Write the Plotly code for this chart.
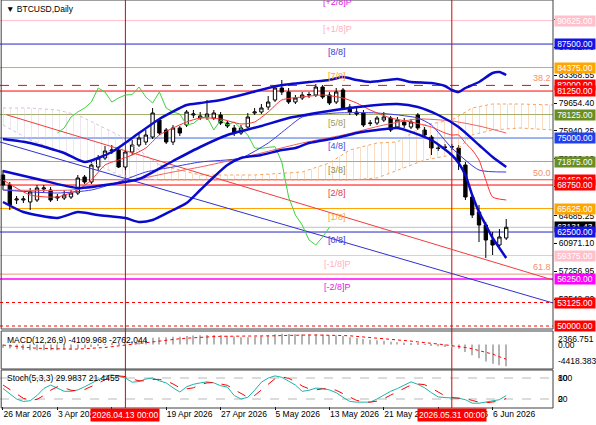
import pandas as pd
import plotly.graph_objects as go

START = pd.Timestamp("2026-03-26")


def day(i):
    return START + pd.Timedelta(days=float(i))


# ---------------- candles (BTCUSD daily) ----------------
opens = [70083, 68753, 66758, 66758, 66492, 66758, 68221, 68088, 67024, 67024,
         67157, 67689, 69817, 69152, 71147, 72344, 73275, 73408, 71147, 73142,
         74073, 74472, 75137, 77398, 76068, 74472, 76334, 76733, 78063, 77664,
         77797, 77664, 78063, 76999, 76334, 75669, 76467, 78329, 78462, 79127,
         80058, 81654, 81122, 79792, 80324, 80723, 80723, 81787, 80723, 79792,
         81388, 79127, 78462, 78329, 76999, 76999, 77398, 77664, 76467, 77132,
         76467, 78063, 76068, 75137, 73674, 73807, 73807, 73674, 71413, 67157,
         65162, 63433, 61438, 60773, 61704]
closes = [68753, 66093, 66891, 66891, 67822, 68354, 68354, 66758, 67157, 67423,
          67689, 69684, 69152, 71413, 72344, 73275, 73408, 71147, 73142, 74073,
          75004, 75403, 78329, 75669, 74472, 76334, 75669, 78462, 78196, 77930,
          78196, 78329, 76999, 76600, 75669, 76334, 77797, 78462, 78994, 79792,
          81654, 81122, 79792, 80324, 80723, 80780, 81787, 80457, 79659, 81122,
          78994, 78462, 78196, 76733, 76960, 77664, 77797, 76068, 77398, 76733,
          77132, 76334, 75403, 73674, 73630, 73760, 73850, 71812, 67157, 64763,
          63433, 61438, 60773, 61837, 63131.43]
highs = [70748, 69152, 67290, 67290, 68354, 68753, 68753, 68487, 67556, 68088,
         68088, 70083, 70083, 71812, 72743, 73940, 74073, 73807, 73408, 74738,
         75669, 76068, 78994, 77664, 76334, 76733, 76600, 78728, 78728, 78462,
         80058, 78728, 78462, 77265, 76733, 76733, 78329, 78994, 79526, 80590,
         82053, 82718, 81654, 80723, 81122, 81122, 82186, 82053, 81122, 81654,
         81654, 79526, 78994, 78728, 77398, 77930, 78462, 77930, 77797, 77664,
         77531, 78329, 76467, 75403, 74073, 74206, 74206, 74073, 71812, 67423,
         66093, 63832, 62502, 62901, 64231]
lows = [68088, 65428, 66226, 66359, 65428, 66492, 67822, 66492, 66625, 66758,
        66891, 67423, 68886, 68886, 70748, 72078, 72876, 71014, 70748, 72743,
        73807, 74073, 74871, 75403, 74206, 74073, 75270, 76467, 77664, 77398,
        77398, 77398, 76733, 76334, 75270, 75403, 76334, 78063, 78196, 78728,
        79792, 80723, 79526, 79526, 80058, 80324, 80457, 80191, 79393, 79526,
        78728, 78063, 77930, 76467, 76600, 76733, 77132, 75802, 76201, 76334,
        76201, 76068, 75004, 72743, 73275, 73408, 73408, 70748, 66758, 64364,
        61172, 59044, 59443, 60374, 61438]
dates = [day(i) for i in range(len(closes))]

# ---------------- indicator lines (day index, price) ----------------
bb_up_idx = [0, 4, 9, 12, 16, 19, 23, 27, 29, 32, 39, 41, 45, 48, 50, 52, 54, 58, 60, 63,
             65, 66, 67, 68, 70, 72, 73, 74]
bb_up_val = [74871, 74339, 73009, 71812, 73142, 75004, 77531, 79393, 79659, 80058,
             81654, 82053, 82452, 82718, 83117, 82718, 82452, 82851, 82452, 82319,
             81920, 81388, 81122, 81654, 82452, 83649, 83782, 83383]
bb_mid_idx = [0, 5, 11, 16, 20, 25, 29, 33, 38, 42, 47, 51, 55, 58, 61, 64, 67, 70, 72, 74]
bb_mid_val = [70615, 69551, 68354, 68886, 69551, 71945, 73807, 75403, 76600, 77664,
              78462, 78994, 79393, 79526, 79127, 78063, 76467, 74073, 72477, 71147]
bb_lo_idx = [0, 3, 8, 11, 14, 18, 20, 22, 25, 27, 29, 31, 33, 35, 38, 41, 43, 45, 49, 52,
             55, 58, 63, 66, 67, 68, 69, 70, 71, 72, 73, 74]
bb_lo_val = [66492, 65162, 64364, 65162, 64763, 64364, 63832, 64098, 65428, 66359,
             68088, 69817, 71413, 72344, 72743, 73408, 73674, 74339, 75004, 75669,
             76068, 76334, 74738, 72743, 71679, 70083, 67423, 65162, 63433, 61704,
             60374, 59044]
kijun_idx = [0, 8, 13, 17, 21, 25, 29, 35, 39, 42, 44, 49, 55, 61, 63, 66, 70, 74]
kijun_val = [68088, 67689, 68088, 69152, 70482, 71147, 71812, 72344, 74339, 76467,
             77797, 78329, 78329, 77664, 76733, 73674, 70748, 70482]
tenkan_idx = [0, 4, 8, 11, 13, 15, 17, 19, 21, 23, 25, 27, 29, 32, 35, 37, 39, 41, 44, 47,
              50, 52, 54, 57, 60, 63, 65, 66, 67, 68, 69, 70, 71, 72, 74]
tenkan_val = [69418, 67423, 67157, 68088, 69418, 71413, 72078, 72743, 73674, 75403,
              76334, 77132, 77664, 77531, 76866, 77132, 78462, 80058, 80457, 80723,
              80324, 79659, 78728, 77664, 77132, 76467, 75669, 75403, 75403, 74339,
              73408, 72078, 69418, 67157, 66758]
ma_idx = [0, 10, 17, 25, 29, 35, 44, 50, 56, 61, 66, 70, 74]
ma_val = [68088, 68088, 69019, 70482, 71147, 72344, 74339, 75403, 76733, 77531,
          77265, 76600, 75669]
cloud_l_idx = [0, 4, 8, 11, 14, 17, 20, 23]
cloud_l_top = [78994, 78994, 78728, 78063, 76733, 75403, 73408, 71413]
cloud_l_bot = [76733, 74738, 73408, 72078, 71413, 70083, 69684, 69418]
cloud_r_idx = [23, 29, 37, 44, 48, 51, 55, 58, 62, 66, 69, 72, 76, 81]
cloud_r_top = [71413, 70083, 70083, 70482, 71679, 73408, 74339, 74472, 76733, 77398,
               78994, 79526, 79526, 79393]
cloud_r_bot = [69418, 69418, 69418, 69418, 69418, 69418, 69684, 70748, 72078, 72743,
               75403, 76068, 76334, 76068]
trend_blue_idx = [-0.44, 80.88]
trend_blue_val = [74472, 53059]
trend_red_idx = [0.5, 80.88]
trend_red_val = [78100, 56118]
chikou_shift = 26
chikou_first = 8

# ---------------- sub windows ----------------
macd_main = [-600, -750, -900, -1000, -1050, -1050, -1050, -1050, -1050, -1000,
             -950, -800, -650, -450, -200, 50, 250, 300, 450, 650,
             850, 1000, 1300, 1400, 1400, 1450, 1450, 1600, 1700, 1750,
             1800, 1800, 1750, 1650, 1500, 1400, 1400, 1450, 1550, 1700,
             1950, 2050, 2000, 1950, 1950, 1900, 1950, 1900, 1750, 1700,
             1600, 1400, 1250, 1050, 900, 800, 700, 550, 450, 350,
             300, 200, 50, -150, -300, -450, -550, -800, -1400, -2000,
             -2600, -3200, -3600, -3900, -4109.968]
macd_signal = [-100, -250, -400, -500, -600, -700, -750, -800, -850, -850,
               -850, -850, -800, -750, -650, -550, -400, -250, -100, 100,
               250, 400, 600, 750, 900, 1000, 1100, 1200, 1300, 1400,
               1450, 1500, 1550, 1550, 1550, 1550, 1550, 1550, 1550, 1600,
               1650, 1700, 1750, 1750, 1800, 1800, 1800, 1800, 1800, 1750,
               1700, 1650, 1550, 1450, 1350, 1250, 1150, 1000, 900, 750,
               650, 500, 400, 250, 100, -50, -200, -350, -550, -800,
               -1100, -1450, -1800, -2300, -2762.044]
macd_max, macd_min = 2366.751, -4418.383
stoch_k = [50, 35, 20, 13, 15, 30, 50, 60, 52, 42,
           42, 46, 55, 65, 75, 85, 89, 84, 80, 68,
           70, 77, 80, 72, 66, 52, 40, 55, 62, 66,
           69, 66, 58, 54, 30, 20, 25, 45, 68, 80,
           86, 82, 70, 60, 42, 45, 51, 50, 46, 38,
           25, 13, 11, 11, 11, 20, 31, 42, 50, 60,
           69, 62, 52, 38, 26, 24, 23, 22, 18, 8,
           8, 11, 13, 18, 29.9837]
stoch_d = [60, 48, 35, 22, 16, 19, 30, 45, 55, 52,
           45, 43, 47, 55, 65, 75, 83, 86, 84, 77,
           72, 72, 76, 76, 72, 63, 52, 49, 52, 61,
           66, 67, 64, 59, 47, 35, 25, 30, 46, 64,
           78, 83, 79, 70, 57, 49, 46, 49, 49, 45,
           36, 25, 16, 12, 11, 14, 21, 31, 41, 51,
           60, 63, 61, 51, 39, 29, 24, 23, 21, 16,
           11, 9, 11, 14, 21.4455]
stoch_levels = [80, 20]

# ---------------- levels ----------------
murrey_prices = [93750, 90625, 87500, 84375, 81250, 78125, 75000, 71875, 68750, 65625,
                 62500, 59375, 56250]
murrey_names = ["[+2/8]P", "[+1/8]P", "[8/8]", "[7/8]", "[6/8]", "[5/8]", "[4/8]",
                "[3/8]", "[2/8]", "[1/8]", "[0/8]", "[-1/8]P", "[-2/8]P"]
fib_prices = [82000, 69450, 56900]
fib_names = ["38.2", "50.0", "61.8"]
extra_prices = [53125, 50000]
current_price = 63131.43
axis_ticks = [90796.85, 87082.70, 83368.55, 79654.40, 75940.25, 72226.10, 68511.95,
              64685.25, 60971.10, 57256.95, 53542.80]
date_ticks = [0, 8, 16, 24, 32, 40, 48, 56, 64, 72]
date_tick_text = ["26 Mar 2026", "3 Apr 2026", "11 Apr 2026", "19 Apr 2026",
                  "27 Apr 2026", "5 May 2026", "13 May 2026", "21 May 2026",
                  "29 May 2026", "6 Jun 2026"]
marker_days = [18, 66]
marker_text = ["2026.04.13 00:00", "2026.05.31 00:00"]

# ---------------- styles ----------------
PINK, BLUE, ORANGE, RED, OLIVE, RBLUE, MAG = ("#FFC0CB", "#2323C8", "#FFA500", "#FF0000",
                                              "#A4AE6E", "#4169E1", "#FF00FF")
murrey_line_color = [MAG, PINK, BLUE, ORANGE, RED, OLIVE, RBLUE, OLIVE, RED, ORANGE, BLUE, PINK, MAG]
murrey_text_color = ["#E020E0", "#FFB0C0", "#3A3AD8", "#FFA520", "#E03030", "#9A9A5A",
                     "#4A4AE0", "#8C8C50", "#E04040", "#FFA530", "#3A3AD8", "#FFB0C0", "#E020E0"]
murrey_box_color = [None, "#FFC0CB", "#1414E6", "#FFA500", "#FF0000", "#6B8E23", "#2040F0",
                    "#6B8E23", "#FF0000", "#FFA500", "#1414E6", "#FFC0CB", "#FF00FF"]
FONT = "Liberation Sans, Arial, sans-serif"
W, H = 596, 425
XR = 553 / W


def py(px):
    return 1 - px / H


fig = go.Figure()

# cloud (hatched)
for idx, top, bot, col in [(cloud_l_idx, cloud_l_top, cloud_l_bot, "#D8BFD8"),
                           (cloud_r_idx, cloud_r_top, cloud_r_bot, "#F4A460")]:
    xs = [day(i) for i in idx]
    fig.add_trace(go.Scatter(x=xs, y=top, mode="lines", line=dict(color=col, width=1, dash="dot"),
                             hoverinfo="skip"))
    fig.add_trace(go.Scatter(x=xs, y=bot, mode="lines", line=dict(color=col, width=1, dash="dot"),
                             fill="tonexty", fillcolor="rgba(0,0,0,0)",
                             fillpattern=dict(shape="|", fgcolor=col, fgopacity=0.55, size=7,
                                              solidity=0.1, bgcolor="rgba(0,0,0,0)"),
                             hoverinfo="skip"))

# trend lines
fig.add_trace(go.Scatter(x=[day(i) for i in trend_blue_idx], y=trend_blue_val, mode="lines",
                         line=dict(color="#3030D0", width=1), hoverinfo="skip"))
fig.add_trace(go.Scatter(x=[day(i) for i in trend_red_idx], y=trend_red_val, mode="lines",
                         line=dict(color="#F03C3C", width=1), hoverinfo="skip"))

# candles
fig.add_trace(go.Candlestick(
    x=dates, open=opens, high=highs, low=lows, close=closes,
    increasing=dict(line=dict(color="black", width=1), fillcolor="white"),
    decreasing=dict(line=dict(color="black", width=1), fillcolor="black"),
    whiskerwidth=0, hoverinfo="skip"))

# chikou (close shifted back)
n_ch = len(closes) - chikou_shift
fig.add_trace(go.Scatter(x=dates[chikou_first:n_ch], y=closes[chikou_first + chikou_shift:],
                         mode="lines", line=dict(color="#3ED43E", width=1), hoverinfo="skip"))
# moving lines
for idx, val, col, w in [(ma_idx, ma_val, "#F06060", 1), (kijun_idx, kijun_val, "#3A3AE6", 1),
                         (tenkan_idx, tenkan_val, "#FF3030", 1),
                         (bb_up_idx, bb_up_val, "#0A0ACD", 2.5), (bb_mid_idx, bb_mid_val, "#0A0ACD", 2.5),
                         (bb_lo_idx, bb_lo_val, "#0A0ACD", 2.5)]:
    fig.add_trace(go.Scatter(x=[day(i) for i in idx], y=val, mode="lines",
                             line=dict(color=col, width=w, shape="spline", smoothing=0.6),
                             hoverinfo="skip"))

# MACD
fig.add_trace(go.Bar(x=dates, y=macd_main, yaxis="y2", width=86400000 * 0.16,
                     marker=dict(color="#B4B4B4", line=dict(width=0)), hoverinfo="skip"))
fig.add_trace(go.Scatter(x=dates, y=macd_signal, yaxis="y2", mode="lines",
                         line=dict(color="#FF0000", width=1, dash="dot"), hoverinfo="skip"))
# Stochastic
fig.add_trace(go.Scatter(x=dates, y=stoch_k, yaxis="y3", mode="lines",
                         line=dict(color="#20B2AA", width=1), hoverinfo="skip"))
fig.add_trace(go.Scatter(x=dates, y=stoch_d, yaxis="y3", mode="lines",
                         line=dict(color="#FF0000", width=1, dash="dash"), hoverinfo="skip"))

shapes = []
# horizontal levels
for p, c in zip(murrey_prices, murrey_line_color):
    shapes.append(dict(type="line", xref="paper", x0=0, x1=XR, yref="y", y0=p, y1=p,
                       line=dict(color=c, width=1.5 if c == MAG else 1), layer="below"))
for p, c, dsh in zip(fib_prices, [RED, "#FF4040", "#E9967A"], ["dash", "solid", "solid"]):
    shapes.append(dict(type="line", xref="paper", x0=0, x1=XR, yref="y", y0=p, y1=p,
                       line=dict(color=c, width=1, dash=dsh), layer="below"))
for p in extra_prices:
    shapes.append(dict(type="line", xref="paper", x0=0, x1=XR, yref="y", y0=p, y1=p,
                       line=dict(color=RED, width=1, dash="dot"), layer="below"))
shapes.append(dict(type="line", xref="paper", x0=0, x1=XR, yref="y", y0=current_price,
                   y1=current_price, line=dict(color="#C0C0C0", width=1), layer="below"))
for lv in stoch_levels:
    shapes.append(dict(type="line", xref="paper", x0=0, x1=XR, yref="y3", y0=lv, y1=lv,
                       line=dict(color="#B8B8B8", width=1, dash="dash"), layer="below"))
for dd in marker_days:
    shapes.append(dict(type="line", xref="x", x0=day(dd), x1=day(dd), yref="paper",
                       y0=py(408), y1=1, line=dict(color="#E00000", width=1), layer="below"))
# panel frames
for top, bot in [(0, 329), (331, 369), (370, 408)]:
    shapes.append(dict(type="rect", xref="paper", x0=0.002, x1=XR, yref="paper",
                       y0=py(bot), y1=py(top), line=dict(color="#404040", width=1),
                       fillcolor="rgba(0,0,0,0)", layer="above"))

ann = []
# Murrey labels
for p, n, c in zip(murrey_prices, murrey_names, murrey_text_color):
    if n == "[6/8]":
        continue
    if p > 93358:
        ann.append(dict(text=n, xref="paper", x=337 / W, yref="paper", y=1, yanchor="middle",
                        yshift=-2, showarrow=False, font=dict(family=FONT, size=9, color=c)))
    else:
        ann.append(dict(text=n, xref="paper", x=337 / W, yref="y", y=p, yanchor="top",
                        yshift=-1, showarrow=False, font=dict(family=FONT, size=9, color=c)))
for p, n in zip(fib_prices, fib_names):
    ann.append(dict(text=n, xref="paper", x=XR, xanchor="right", yref="y", y=p, yanchor="bottom",
                    showarrow=False, font=dict(family=FONT, size=9, color="#F4906A")))

# price boxes on the right scale
boxes = []
for p, c in zip(murrey_prices, murrey_box_color):
    if c:
        boxes.append((p, c))
boxes += [(fib_prices[0], RED), (fib_prices[1], RED), (current_price, "#000000")]
boxes += [(p, RED) for p in extra_prices]
boxes.sort(key=lambda t: (-t[0]))
for p, c in boxes:
    ann.append(dict(text=f"{p:.2f}", xref="paper", x=554 / W, xanchor="left", yref="y", y=p,
                    yanchor="middle", showarrow=False, bgcolor=c, borderpad=0, width=40, height=10,
                    font=dict(family=FONT, size=8.5, color="white")))

# sub window scale labels
for t, yv, ya, yr in [(f"{macd_max:.3f}", macd_max, "top", "y2"), ("0.00", 0, "middle", "y2"),
                      (f"{macd_min:.3f}", macd_min, "bottom", "y2"),
                      ("100", 100, "top", "y3"), ("80", 80, "middle", "y3"),
                      ("20", 20, "middle", "y3"), ("0", 0, "bottom", "y3")]:
    ann.append(dict(text=t, xref="paper", x=556 / W, xanchor="left", yref=yr, y=yv, yanchor=ya,
                    showarrow=False, font=dict(family=FONT, size=8.5, color="black")))

# titles
ann.append(dict(text="▼ BTCUSD,Daily", xref="paper", x=4 / W, xanchor="left", yref="paper",
                y=py(9), yanchor="middle", showarrow=False, font=dict(family=FONT, size=8.5)))
ann.append(dict(text=f"MACD(12,26,9) {macd_main[-1]:.3f} {macd_signal[-1]:.3f}", xref="paper",
                x=5 / W, xanchor="left", yref="paper", y=py(340), yanchor="middle",
                showarrow=False, font=dict(family=FONT, size=8.5)))
ann.append(dict(text=f"Stoch(5,3,3) {stoch_k[-1]:.4f} {stoch_d[-1]:.4f}", xref="paper",
                x=5 / W, xanchor="left", yref="paper", y=py(378), yanchor="middle",
                showarrow=False, font=dict(family=FONT, size=8.5)))
# date markers
for dd, t in zip(marker_days, marker_text):
    ann.append(dict(text=t, xref="x", x=day(dd), xanchor="center", yref="paper", y=py(415),
                    yanchor="middle", showarrow=False, bgcolor="#FF0000", borderpad=1,
                    font=dict(family=FONT, size=8.5, color="white")))

fig.update_layout(
    width=W, height=H, margin=dict(l=0, r=0, t=0, b=0, autoexpand=False),
    paper_bgcolor="white", plot_bgcolor="white", showlegend=False,
    font=dict(family=FONT, size=9, color="black"),
    barmode="overlay",
    xaxis=dict(domain=[0, XR], anchor="y3", type="date", range=[day(-0.44), day(80.88)],
               showgrid=False, zeroline=False, rangeslider=dict(visible=False),
               tickvals=[day(i) for i in date_ticks], ticktext=date_tick_text, tickangle=0,
               ticks="outside", ticklen=3, tickcolor="black", ticklabelposition="outside right",
               tickfont=dict(family=FONT, size=8.5, color="black"), showline=False,
               automargin=False),
    yaxis=dict(domain=[py(328), 1], range=[49734, 93358], side="right", anchor="x",
               showgrid=False, zeroline=False, tickvals=axis_ticks, automargin=False,
               ticktext=[f"{v:.2f}" for v in axis_ticks], ticks="outside", ticklen=3,
               tickcolor="black", tickfont=dict(family=FONT, size=8.5, color="black")),
    yaxis2=dict(domain=[py(368), py(332)], range=[macd_min, macd_max], anchor="x",
                showgrid=False, zeroline=False, showticklabels=False, automargin=False),
    yaxis3=dict(domain=[py(406), py(371)], range=[0, 100], anchor="x",
                showgrid=False, zeroline=False, showticklabels=False, automargin=False),
    shapes=shapes, annotations=ann,
)

fig.write_html("out.html")
